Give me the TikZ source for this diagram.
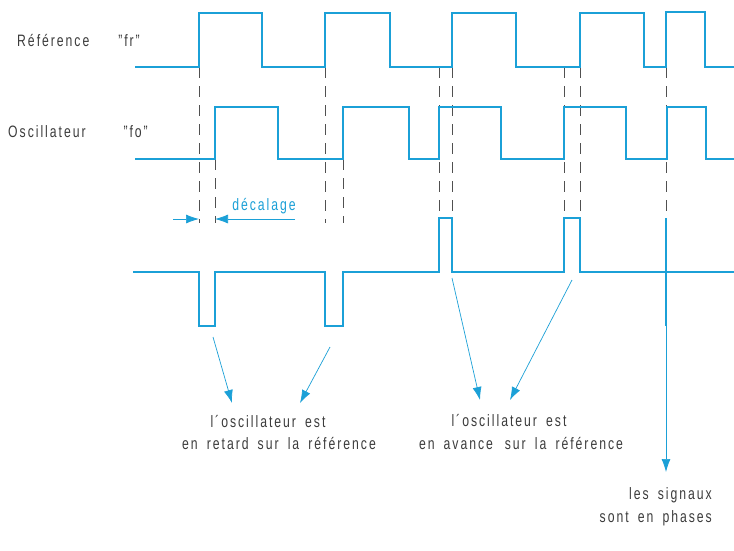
\documentclass[tikz,border=0pt]{standalone}
\usepackage{fontspec}
\setmainfont{Liberation Sans}[FakeStretch=0.74, LetterSpace=12, WordSpace=1.7]
\usetikzlibrary{arrows.meta}
\definecolor{sigblue}{RGB}{27,160,215}
\definecolor{txtgray}{RGB}{60,60,60}
\definecolor{dashgray}{RGB}{80,80,80}
\begin{document}
\begin{tikzpicture}[x=1pt,y=-1pt,
  signal/.style={draw=sigblue, line width=2.6pt, line join=miter},
  guide/.style={draw=dashgray, line width=0.8pt, dash pattern=on 11pt off 8pt},
  pointer/.style={draw=sigblue, line width=0.7pt, -{Latex[length=13pt,width=9pt]}},
  lbl/.style={text=txtgray, font=\fontsize{16.5}{19}\selectfont, inner sep=0pt},
  bluelbl/.style={text=sigblue, font=\fontsize{16.5}{19}\selectfont, inner sep=0pt}]
\useasboundingbox[fill=white] (0,0) rectangle (734,550);

% dashed guides
\foreach \x/\a/\b in {199/67/223, 215/159/223, 325/67/223, 343/159/223,
                      439/67/218, 452/67/218, 564/67/218, 580/67/218, 666/67/218}
  \draw[guide] (\x,\a) -- (\x,\b);

% reference signal
\draw[signal] (135,67) -| (199,13) -| (262,67) -| (325,13) -| (390,67)
  -| (452,13) -| (516,67) -| (580,13) -| (644,67) -| (666,12) -| (705,67) -- (734,67);
% oscillator signal
\draw[signal] (135,159) -| (215,107) -| (278,159) -| (343,107) -| (409,159)
  -| (439,107) -| (501,159) -| (564,107) -| (626,159) -| (667,107) -| (706,159) -- (734,159);
% phase comparator output
\draw[signal] (133,272) -| (199,326) -| (215,272) -| (325,326) -| (343,272)
  -| (439,218) -| (452,272) -| (564,218) -| (580,272) -- (734,272);
\draw[signal] (666,218) -- (666,326);

% labels
\node[lbl, anchor=west] (lref) at (17,41) {Référence};
\node[lbl, anchor=east] (lfr) at (140,41) {"fr"};
\node[lbl, anchor=west] (losc) at (8,132) {Oscillateur};
\node[lbl, anchor=east] (lfo) at (148,132) {"fo"};

% decalage
\node[bluelbl] (dec) at (264,206) {décalage};
\coordinate (dl0) at (173,219);
\coordinate (dl1) at (199,219);
\coordinate (dr0) at (295,219);
\coordinate (dr1) at (215,219);
\draw[pointer] (dl0) -- (dl1);
\draw[pointer] (dr0) -- (dr1);

% explanation texts
\node[lbl] (t1a) at (268,421) {l´oscillateur est};
\node[lbl] (t1b) at (279,443) {en retard sur la référence};
\node[lbl] (t2a) at (509,420) {l´oscillateur est};
\node[lbl] (t2b) at (521,443) {en avance\, sur la référence};
\node[lbl, anchor=east] (t3a) at (712,495) {les signaux};
\node[lbl, anchor=east] (t3b) at (712,518) {sont en phases};

% pointers
\coordinate (p1s) at (213,337); \coordinate (p1e) at (232,403);
\coordinate (p2s) at (330,347); \coordinate (p2e) at (300,403);
\coordinate (p3s) at (452,278); \coordinate (p3e) at (480,400);
\coordinate (p4s) at (572,280); \coordinate (p4e) at (510,400);
\coordinate (p5s) at (666,326); \coordinate (p5e) at (666,472);
\draw[pointer] (p1s) -- (p1e);
\draw[pointer] (p2s) -- (p2e);
\draw[pointer] (p3s) -- (p3e);
\draw[pointer] (p4s) -- (p4e);
\draw[pointer] (p5s) -- (p5e);
\end{tikzpicture}
\end{document}
